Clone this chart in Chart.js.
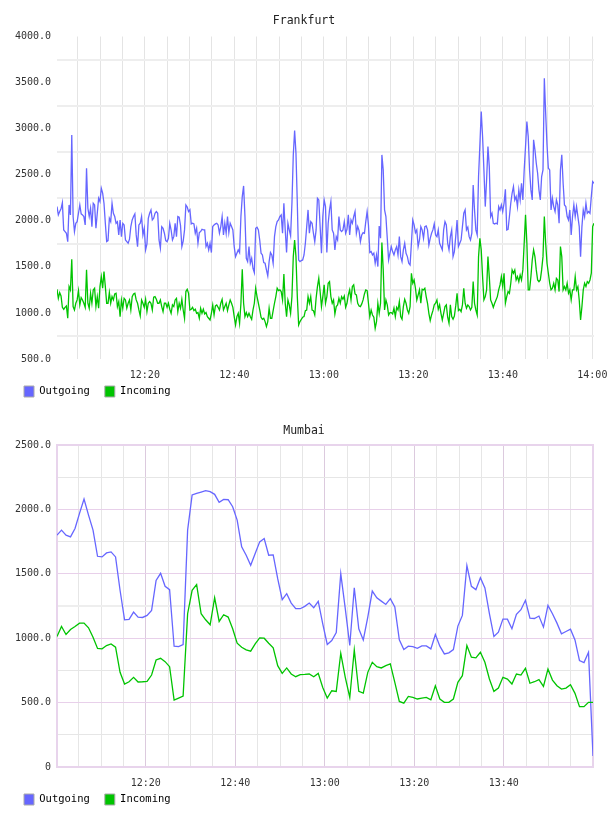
<!DOCTYPE html>
<html><head><meta charset="utf-8">
<script src="https://cdn.jsdelivr.net/npm/chart.js@4/dist/chart.umd.min.js"></script>
<style>
html,body{margin:0;padding:0;background:#fff;width:608px;height:816px;overflow:hidden}
canvas{display:block}
</style></head><body>
<canvas id="c1" width="608" height="408"></canvas>
<canvas id="c2" width="608" height="408"></canvas>
<script>
// ---------- DATA ----------
const seriesNames = ['Outgoing', 'Incoming'];

// Frankfurt: samples every 18 s starting 12:00:22
const frankfurtStartSec = 22;
const frankfurtStepSec = 18;
const frankfurtOutgoing = [
2154,2064,2100,2130,2197,1901,1883,1865,1774,2172,2064,
2932,2046,1883,1973,1990,2082,2172,2075,2064,2046,1955,
2570,2136,2046,2136,1937,2190,2172,1919,2082,2245,
2208,2353,2300,2190,1973,1774,1785,2027,1991,2190,
2082,2046,1973,1990,1847,2009,1828,1973,1955,1792,
1774,1756,1800,1937,2009,2046,2075,1847,1720,1955,
1973,2046,1847,1919,1684,1750,2027,2082,2118,2009,
2027,2082,2100,2082,1792,1702,1937,1919,1865,1785,
1774,1810,1973,1900,1792,1828,1973,1828,2046,2038,
1950,1720,1780,1901,2172,2150,2100,2120,
1966,1973,1966,1865,1919,1756,1872,1883,1908,1901,
1901,1720,1756,1684,1756,1655,1937,1955,1966,1973,
1955,1865,1937,2046,1847,1973,1865,2046,1872,1973,
1937,1901,1720,1611,1648,1684,1655,2046,2263,2378,
2046,1593,1557,1720,1539,1593,1485,1438,1919,1930,
1901,1792,1648,1629,1546,1539,1467,1402,1557,1655,
1629,1539,1828,1937,1991,2009,2046,2064,1865,2190,
1901,1655,1973,1901,1836,2190,2715,2979,2733,2190,
1575,1557,1568,1575,1629,1756,1937,2118,1865,1991,
1973,1865,1774,1901,2245,2226,1937,1648,2046,2226,
2154,
1655,1973,2118,2208,1901,1865,1684,1828,1792,2046,
1901,1883,1901,1991,1865,1908,2064,1847,2009,1973,
2046,2100,1865,1937,1894,1774,1847,1872,1865,1991,
2100,1955,1655,1666,1629,1648,1539,1629,1503,1944,
1810,2715,2552,2118,2046,1810,1575,1648,1720,1666,
1629,1684,1720,1629,1828,1611,1557,1684,1756,1648,
1611,1539,1521,1756,2009,1955,1872,1901,1720,1792,
1937,1901,1810,1937,1944,1901,1738,1810,1865,1901,
1966,1847,1828,1901,1756,1720,1684,1901,1991,1955,
1756,1684,1828,1901,1611,1666,1828,2009,1720,1756,
1792,
1937,2082,2118,1901,1930,1828,1792,1865,2389,2118,
1901,1847,2480,2823,3185,2914,2552,2154,2444,2805,
2588,2046,2082,1973,1966,1973,1966,2154,2118,2172,
2100,2190,2342,1901,1908,2046,2190,2299,2371,2226,
2263,2154,2335,2226,2407,2226,2552,2805,3077,2914,
2552,2335,2226,2878,2769,2624,2516,2335,2226,2480,
2552,3547,3167,2823,2570,2552,2118,2245,2154,2100,
2226,2172,1973,2552,2715,2407,2172,2154,2046,2009,
2118,1847,2046,2172,2046,2154,2046,1937,1611,1937,
2118,2046,2190,2082,2100,2082,2263,2425,2407
];
const frankfurtIncoming = [
1257,1159,1221,1184,1061,1040,1061,1076,942,1286,
1250,1582,1069,1032,1105,1141,1242,1087,1166,1141,
1105,1061,1467,1105,1051,1213,1105,1250,1268,1069,
1177,1051,1286,1394,1268,1449,1286,1105,1105,1221,
1105,1177,1141,1206,1213,1069,1123,960,1141,1051,
1159,1141,1051,1105,1141,1032,1177,1206,1213,1141,
1105,1032,967,1141,1105,1061,1148,1014,1105,1123,
1105,1032,1170,1177,1148,1105,1105,1141,1069,1014,
1105,1105,1061,1105,1040,996,1087,1069,1141,1159,
1014,1105,1051,1148,1032,942,1232,1257,1213,1032,
1040,1061,1025,1040,996,1004,942,1051,996,1040,
989,1004,960,942,924,996,1087,978,1076,1087,
1061,1032,1105,1148,1032,1069,1105,1025,1087,1141,
1105,1061,960,870,960,996,888,1105,1474,1105,
960,1004,960,996,960,931,1032,1105,1268,1177,
1105,1032,953,931,942,906,852,906,1051,942,
942,1025,1105,1177,1268,1242,1250,1232,1141,1423,
1105,960,1141,1087,996,1177,1611,1792,1611,1177,
870,906,931,953,960,1025,1032,1177,1105,1177,
1032,1025,978,1159,1286,1376,1232,1069,1177,1304,
1105,
1177,1322,1340,1177,1105,1141,989,1069,1087,1159,
1105,1177,1148,1184,1061,1105,1195,1250,1141,1286,
1304,1206,1195,1105,1076,1069,1098,1141,1206,1250,
1242,1105,960,1032,978,953,833,906,1105,996,
1105,1763,1467,1032,1141,1087,978,1004,1004,989,
1051,960,1061,1032,1123,960,931,1069,1148,1105,
1032,996,1069,1431,1322,1358,1268,1141,1195,1250,
1105,1257,1250,1268,1177,1105,996,917,978,1025,
1087,1105,1141,1040,1087,996,924,996,1069,1087,
953,888,1087,960,931,967,1076,1213,1025,1040,
1014,
1087,1268,1105,1051,1087,1069,1032,1061,1340,1105,
1032,978,1611,1810,1684,1394,1141,1177,1250,1611,
1394,1141,1105,1061,1105,1141,1177,1250,1304,1394,
1286,1431,1105,1177,1232,1213,1322,1467,1431,1467,
1358,1394,1340,1412,1358,1467,1756,2064,1756,1250,
1250,1394,1575,1684,1611,1467,1358,1340,1358,1467,
1611,2046,1756,1539,1431,1322,1250,1268,1322,1250,
1376,1358,1232,1720,1611,1250,1286,1250,1322,1213,
1250,1141,1250,1250,1394,1250,1286,1141,923,1069,
1250,1322,1286,1340,1322,1358,1431,1937,1973
];

// Mumbai: samples roughly every minute starting 12:00:09
const mumbaiStartSec = 9;
const mumbaiStepSec = 60.4;
const mumbaiOutgoing = [
1800,1839,1800,1787,1852,1969,2080,1956,1839,1636,
1631,1662,1670,1631,1372,1143,1146,1203,1164,1161,
1177,1216,1449,1504,1403,1377,938,935,951,1839,
2112,2125,2135,2145,2138,2117,2055,2078,2075,2021,
1917,1709,1644,1566,1657,1748,1774,1644,1647,1462,
1299,1346,1273,1229,1229,1247,1273,1237,1286,1112,
951,982,1044,1501,1229,943,1392,1073,987,1164,
1366,1314,1288,1262,1307,1242,987,912,938,935,
922,940,940,917,1029,938,878,886,912,1094,
1177,1564,1403,1377,1470,1390,1190,1013,1047,1148,
1148,1073,1185,1221,1294,1156,1153,1172,1086,1255,
1190,1117,1034,1052,1070,987,826,811,891,86
];
const mumbaiIncoming = [
1013,1091,1029,1068,1091,1117,1117,1081,1008,920,
917,943,956,930,735,644,662,696,660,662,
665,714,831,844,818,779,519,535,551,1190,
1372,1416,1190,1143,1104,1314,1130,1182,1164,1073,
961,930,909,899,956,1003,1000,961,925,787,
727,769,722,701,717,719,722,701,727,618,
535,592,587,883,696,540,909,587,574,735,
813,779,769,787,800,657,509,496,548,540,
528,535,540,522,631,528,502,502,528,657,
709,943,852,847,891,813,683,587,613,696,
683,644,722,714,766,650,662,678,626,761,
675,631,605,613,639,572,468,468,502,502
];

// axis ticks (minutes after 12:00)
const frankfurtXTicks = [5,10,15,20,25,30,35,40,45,50,55,60,65,70,75,80,85,90,95,100,105,110,115,120];
const mumbaiXTicks = [5,10,15,20,25,30,35,40,45,50,55,60,65,70,75,80,85,90,95,100,105,110,115];
const majorTickMinutes = [20,40,60,80,100,120];
const majorTickLabels = ['12:20','12:40','13:00','13:20','13:40','14:00'];

// ---------- DRAWING ----------
const FONT = '"DejaVu Sans Mono", monospace';
const OUT_COLOR = '#6666ff';
const IN_COLOR = '#00c400';

const toMinutes = (start, step, n) => Array.from({length: n}, (_, i) => (start + i * step) / 60);

const plotFrame = {
  id: 'plotFrame',
  afterLayout(chart) {
    // let the x tick labels extend below the (compact) axis box
    const s = chart.scales.x;
    s.bottom = s.top + 26;
  },
  beforeDatasetsDraw(chart, args, opts) {
    if (!opts.color) return;
    const {ctx, chartArea: a} = chart;
    ctx.save();
    ctx.strokeStyle = opts.color;
    ctx.lineWidth = 2;
    ctx.strokeRect(a.left, a.top, a.right - a.left, a.bottom - a.top);
    ctx.restore();
  }
};

function buildChart(id, cfg) {
  const times = toMinutes(cfg.startSec, cfg.stepSec, cfg.outgoing.length);
  const pts = vals => vals.map((v, i) => ({x: times[i], y: v}));
  return new Chart(document.getElementById(id), {
    type: 'line',
    data: {datasets: [
      {label: seriesNames[0], data: pts(cfg.outgoing), borderColor: OUT_COLOR, backgroundColor: OUT_COLOR,
       borderWidth: 1.3, pointRadius: 0, tension: 0, order: 1},
      {label: seriesNames[1], data: pts(cfg.incoming), borderColor: IN_COLOR, backgroundColor: IN_COLOR,
       borderWidth: 1.3, pointRadius: 0, tension: 0, order: 0}
    ]},
    options: {
      responsive: false, animation: false, devicePixelRatio: 1,
      layout: {padding: {left: 9, right: 9, top: 0, bottom: 1}},
      plugins: {
        title: {display: true, text: cfg.title, color: '#222',
                font: {family: FONT, size: 11.5, weight: 'normal'}, padding: {top: cfg.titleTop, bottom: cfg.titleBottom}},
        legend: {position: 'bottom', align: 'start',
          labels: {boxWidth: 10, boxHeight: 11, padding: 15, color: '#333', font: {family: FONT, size: 10.5},
            generateLabels: chart => chart.data.datasets.map((d, i) => ({
              text: d.label, fillStyle: d.borderColor, strokeStyle: '#aaa', lineWidth: 1, hidden: false, datasetIndex: i}))}},
        tooltip: {enabled: false},
        plotFrame: {color: cfg.frameColor}
      },
      scales: {
        x: {type: 'linear', min: times[0], max: times[times.length - 1],
          afterBuildTicks: s => { s.ticks = cfg.xTicks.map(v => ({value: v})); },
          afterFit: s => { s.height = 12; s.paddingRight = cfg.padRight; },
          ticks: {autoSkip: false, maxRotation: 0, padding: 10, color: '#333', font: {family: FONT, size: 10},
            callback: v => { const k = majorTickMinutes.indexOf(v); return k >= 0 ? majorTickLabels[k] : ''; }},
          grid: {drawTicks: false, color: cfg.xGridColor, lineWidth: 1},
          border: {display: false}},
        y: {type: 'linear', min: cfg.yMin, max: cfg.yMax,
          afterFit: s => { s.width = 48; },
          ticks: {stepSize: 250, autoSkip: false, padding: 6, color: '#333', font: {family: FONT, size: 10},
            callback: v => v % 500 === 0 ? (v === 0 ? '0' : v.toFixed(1)) : ''},
          grid: {drawTicks: false, color: cfg.yGridColor, lineWidth: cfg.yGridWidth},
          border: {display: false}}
      }
    },
    plugins: [plotFrame]
  });
}

buildChart('c1', {
  title: 'Frankfurt', startSec: frankfurtStartSec, stepSec: frankfurtStepSec,
  outgoing: frankfurtOutgoing, incoming: frankfurtIncoming,
  xTicks: frankfurtXTicks, yMin: 500, yMax: 4000, padRight: 14, titleTop: 14, titleBottom: 8.7,
  xGridColor: '#e4e4e4',
  yGridColor: c => c.tick.value % 500 === 0 ? 'rgba(0,0,0,0)' : '#eeeeee',
  yGridWidth: 2,
  frameColor: null
});

buildChart('c2', {
  title: 'Mumbai', startSec: mumbaiStartSec, stepSec: mumbaiStepSec,
  outgoing: mumbaiOutgoing, incoming: mumbaiIncoming,
  xTicks: mumbaiXTicks, yMin: 0, yMax: 2500, padRight: 15, titleTop: 16, titleBottom: 7.2,
  xGridColor: c => c.tick.value % 20 === 0 ? '#dccade' : '#e6e6e6',
  yGridColor: c => c.tick.value % 500 === 0 ? '#e8d0ea' : (c.tick.value === 1250 ? '#eeeeee' : '#e6e6e6'),
  yGridWidth: c => c.tick.value === 1250 ? 2 : 1,
  frameColor: '#e8d4ec'
});
</script>
</body></html>
